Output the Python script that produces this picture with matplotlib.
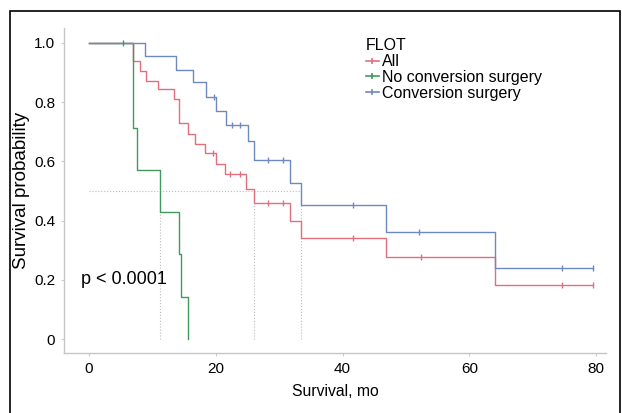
import matplotlib
matplotlib.use('Agg')

import matplotlib.pyplot as plt
from matplotlib.patches import Rectangle

plt.rcParams['font.family'] = ['Liberation Sans', 'DejaVu Sans']

# ---------------- DATA ----------------
all_t = [0, 6.9, 8.0, 9.0, 10.9, 13.5, 14.2, 15.6, 16.7, 18.3, 20.1, 21.5, 24.8, 26.1, 31.7, 33.4, 46.9, 64.1, 79.5]
all_s = [1.0, 0.94, 0.906, 0.872, 0.844, 0.81, 0.731, 0.692, 0.658, 0.627, 0.59, 0.556, 0.507, 0.46, 0.40, 0.341, 0.277, 0.183, 0.183]
all_cens_t = [19.5, 22.2, 23.8, 28.2, 30.6, 41.6, 52.4, 74.6, 79.5]
all_cens_s = [0.627, 0.556, 0.556, 0.46, 0.46, 0.341, 0.277, 0.183, 0.183]

noconv_t = [0, 6.9, 7.0, 7.6, 11.2, 14.2, 14.6, 15.6]
noconv_s = [1.0, 0.857, 0.714, 0.571, 0.429, 0.286, 0.143, 0.0]
noconv_cens_t = [5.4]
noconv_cens_s = [1.0]

conv_t = [0, 8.9, 13.7, 16.5, 18.4, 20.1, 21.7, 25.1, 26.1, 31.7, 33.4, 46.9, 64.1, 79.5]
conv_s = [1.0, 0.957, 0.909, 0.867, 0.819, 0.771, 0.722, 0.669, 0.604, 0.528, 0.454, 0.362, 0.239, 0.239]
conv_cens_t = [19.7, 22.5, 23.8, 28.2, 30.6, 41.6, 52.1, 74.6, 79.5]
conv_cens_s = [0.819, 0.722, 0.722, 0.604, 0.604, 0.454, 0.362, 0.239, 0.239]

medians = [11.2, 26.1, 33.4]

labels = ["All", "No conversion surgery", "Conversion surgery"]
colors = ["#e0707d", "#3f9a5c", "#6d89c0"]

# ---------------- PLOT ----------------
fig = plt.figure(figsize=(6.22, 4.13), dpi=100)
ax = fig.add_axes([0.103, 0.145, 0.871, 0.787])

# median guide lines
ax.plot([0, max(medians)], [0.5, 0.5], color="#bdbdbd", lw=0.8, ls=":", zorder=1)
for m in medians:
    ax.plot([m, m], [0, 0.5], color="#bdbdbd", lw=0.8, ls=":", zorder=1)

series = [
    (all_t, all_s, all_cens_t, all_cens_s),
    (noconv_t, noconv_s, noconv_cens_t, noconv_cens_s),
    (conv_t, conv_s, conv_cens_t, conv_cens_s),
]
for (t, s, ct, cs), lab, c in zip(series, labels, colors):
    ax.step(t, s, where="post", color=c, lw=1.0, zorder=2)
    ax.plot(ct, cs, ls="none", marker="|", color=c, markersize=4, mew=1.0, zorder=3)
    # legend handle: line with a small cross
    ax.plot([], [], color=c, lw=1.2, marker="|", markersize=5, mew=1.2, label=lab)

ax.set_xlim(-3.9, 81.5)
ax.set_ylim(-0.047, 1.05)
ax.set_xticks([0, 20, 40, 60, 80])
ax.set_yticks([0, 0.2, 0.4, 0.6, 0.8, 1.0])
ax.set_yticklabels(["0", "0.2", "0.4", "0.6", "0.8", "1.0"])
ax.tick_params(labelsize=11, length=2.5, color="#cccccc", width=0.8, pad=4)

for side in ["top", "right"]:
    ax.spines[side].set_visible(False)
for side in ["left", "bottom"]:
    ax.spines[side].set_color("#c6c6c6")
    ax.spines[side].set_linewidth(1.0)

ax.set_xlabel("Survival, mo", fontsize=11.3, labelpad=6)
ax.set_ylabel("Survival probability", fontsize=13.5, labelpad=3)

ax.text(-1.3, 0.2, "p < 0.0001", fontsize=13, va="center", ha="left")

leg = ax.legend(title="FLOT", loc="upper left", bbox_to_anchor=(0.557, 0.968),
                frameon=False, fontsize=11.5, title_fontsize=11.5,
                handlelength=0.8, handletextpad=0.2, labelspacing=0.05,
                borderaxespad=0, borderpad=0)
leg._legend_box.align = "left"

# outer frame of the original figure
fig.add_artist(Rectangle((0.0161, -0.02), 0.98, 0.9934, transform=fig.transFigure,
                         fill=False, edgecolor="black", lw=1.2))

fig.savefig("out.png", dpi=100)
